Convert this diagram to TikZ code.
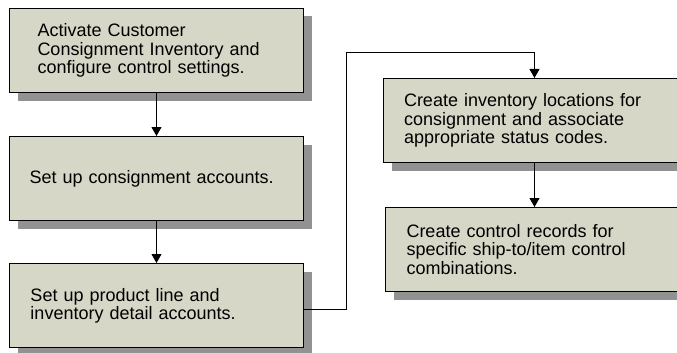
\documentclass[tikz,border=0pt]{standalone}
\usepackage{fontspec}
\setmainfont{Liberation Sans}
\usetikzlibrary{shadows,arrows.meta}
\definecolor{boxfill}{HTML}{D6D7C6}
\definecolor{shadowgray}{HTML}{929292}
\tikzset{
  stepbox/.style={draw=black, line width=1pt, fill=boxfill, anchor=north west,
    minimum height=84pt, inner ysep=0pt, align=left,
    font=\fontsize{18}{18.3}\selectfont,
    drop shadow={shadow xshift=8pt, shadow yshift=-8pt, fill=shadowgray, opacity=1}},
  link/.style={draw=black, line width=1pt, -{Triangle[width=10pt,length=9pt]}},
}
\begin{document}
\begin{tikzpicture}[x=1pt,y=-1pt]
\useasboundingbox (0,0) rectangle (677,353);
\clip (0,0) rectangle (677,353);
\node[stepbox, inner xsep=28pt, text width=238pt] (b1) at (9,8)
  {Activate Customer\\Consignment Inventory and\\configure control settings.};
\node[stepbox, inner xsep=20pt, text width=254pt] (b2) at (9,136)
  {Set up consignment accounts.};
\node[stepbox, inner xsep=21pt, text width=252pt] (b3) at (9,263)
  {Set up product line and\\inventory detail accounts.};
\node[stepbox, inner xsep=20.5pt, text width=261pt] (b4) at (383,78)
  {Create inventory locations for\\consignment and associate\\appropriate status codes.};
\node[stepbox, inner xsep=21pt, text width=256pt] (b5) at (385,207)
  {Create control records for\\specific ship-to/item control\\combinations.};
\coordinate (t3) at (0,309);
\coordinate (turn) at (346,53);
\draw[link] (b1.south) -- (b2.north);
\draw[link] (b2.south) -- (b3.north);
\draw[link] (b3.east |- t3) -| (turn) -| (b4.north);
\draw[link] (b4.south) -- (b4.south |- b5.north);
\end{tikzpicture}
\end{document}
